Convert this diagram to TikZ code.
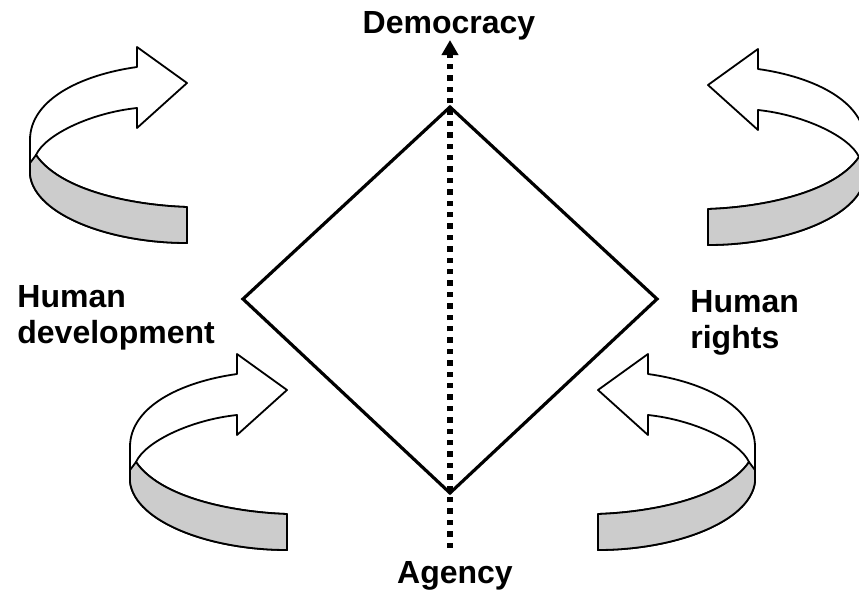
\documentclass[tikz,border=0pt]{standalone}
\usepackage{fontspec}
\setmainfont{Liberation Sans}
\usetikzlibrary{arrows.meta}

\tikzset{
  ribbonarrow/.pic={
    \filldraw[ribbonline,fill=white] (0,0) -- (-50,-36) -- (-50,-16)
      .. controls (-107,-8) and (-157,17) .. (-157,57) -- (-157,92)
      .. controls (-152,132) and (-77,160) .. (0,160) -- (0,124)
      .. controls (-57,122) and (-127,107) .. (-151,72)
      .. controls (-142,52) and (-97,30) .. (-50,25) -- (-50,45) -- cycle;
    \filldraw[ribbonline,fill=ribbongray] (-151,72)
      .. controls (-127,107) and (-57,122) .. (0,124) -- (0,160)
      .. controls (-77,160) and (-152,132) .. (-157,92) -- (-157,80) -- cycle;
  }
}

\begin{document}
\begin{tikzpicture}[x=0.5pt,y=-0.5pt,
  ribbonline/.style={line width=0.9pt,line join=round},
  diamondline/.style={line width=1.6pt,line join=miter},
  dotline/.style={line width=2.7pt,dash pattern=on 2.7pt off 3pt,-{Triangle[width=8pt,length=7.5pt]}},
  bigtext/.style={font=\bfseries\fontsize{16}{18}\selectfont,inner sep=0pt}]
\definecolor{ribbongray}{HTML}{CCCCCC}
\clip (0,0) rectangle (859,595);
% curved arrows
\foreach \px/\py/\flip in {187/83/1,287/390/1,708/85/-1,598/390/-1}
  {\pic[xscale=\flip] at (\px,\py) {ribbonarrow};}
% diamond
\coordinate (top) at (450,107);
\coordinate (right) at (657,299);
\coordinate (bottom) at (450,493);
\coordinate (left) at (243,299);
\draw[diamondline] (top) -- (right) -- (bottom) -- (left) -- cycle;
% axis
\coordinate (axisstart) at (450,548);
\coordinate (axisend) at (450,40);
\draw[dotline] (axisstart) -- (axisend);
% labels
\node[bigtext,anchor=base] (democracy) at (449,33) {Democracy};
\node[bigtext,anchor=base] (agency) at (455,583) {Agency};
\node[bigtext,anchor=base west,align=left] (humdev) at (17,343) {Human\\development};
\node[bigtext,anchor=base west,align=left] (humrights) at (690,348) {Human\\rights};
\end{tikzpicture}
\end{document}
